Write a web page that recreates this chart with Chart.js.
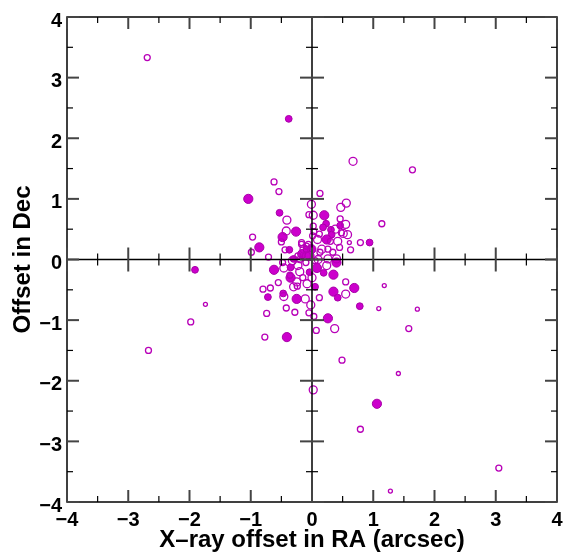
<!DOCTYPE html>
<html><head><meta charset="utf-8">
<script src="https://cdn.jsdelivr.net/npm/chart.js@4"></script>
<style>html,body{margin:0;padding:0;background:#fff}#wrap{width:569px;height:555px}</style>
</head><body><div id="wrap"><canvas id="c" width="569" height="555"></canvas></div>
<script>
// ---- data ----
const xTickValues = [-4, -3, -2, -1, 0, 1, 2, 3, 4];
const yTickValues = [-4, -3, -2, -1, 0, 1, 2, 3, 4];
const xTitle = "X\u2013ray offset in RA (arcsec)";
const yTitle = "Offset in Dec";

// filled markers (size class 1..4)
const filledX = [-0.38,-1.04,-0.53,0.20,0.23,0.46,0.31,-0.26,-0.48,0.32,0.24,0.94,-0.86,-0.01,-0.37,-0.16,0.40,-0.30,-1.91,-0.62,-0.35,0.08,0.19,-0.04,0.35,-0.35,0.05,0.69,0.35,0.42,-0.72,-0.25,0.78,0.26,-0.41,1.06,0.18,-0.04,-0.47,-0.09];
const filledY = [2.32,1.00,0.77,0.73,0.59,0.56,0.49,0.46,0.37,0.41,0.33,0.28,0.20,0.17,0.16,0.09,-0.05,0.01,-0.17,-0.17,-0.13,-0.14,-0.22,-0.21,-0.25,-0.30,-0.45,-0.47,-0.53,-0.63,-0.62,-0.65,-0.77,-0.97,-1.28,-2.38,0.53,0.06,-0.56,0.17];
const filledSize = [3,4,3,4,3,3,3,4,4,3,4,3,4,4,3,4,4,3,3,4,3,4,3,3,4,4,3,4,4,3,3,4,3,4,4,4,3,4,3,3];

// open markers
const openX = [-2.69,0.67,1.64,-0.62,-0.54,0.13,-0.01,0.56,0.47,-0.05,0.02,-0.41,0.46,1.14,0.55,0.02,0.38,-0.42,-0.50,-0.97,0.51,0.58,0.09,0.01,0.12,0.03,0.79,0.61,-0.06,-0.17,-0.13,0.16,0.26,0.45,0.63,-0.44,-0.99,-0.71,0.40,0.26,-0.48,-0.46,-0.23,0.24,-0.25,-0.24,-0.08,0.55,-0.55,-0.68,-0.80,0.55,-0.46,-0.11,0.12,-0.02,1.18,1.09,1.72,-1.74,-0.42,-0.28,-0.74,-0.05,0.03,-1.98,0.37,0.07,-0.77,1.58,-2.67,0.49,1.41,0.02,0.79,3.05,1.28,-0.23,-0.09,0.05,0.13,0.34,-0.36,0.48,-0.17,-0.09,-0.20,-0.30,-0.15,0.00,0.10,-0.10,0.30,0.42,-0.32,-0.20];
const openY = [3.33,1.62,1.48,1.28,1.12,1.09,0.91,0.93,0.86,0.74,0.73,0.65,0.67,0.59,0.58,0.55,0.50,0.47,0.29,0.37,0.43,0.41,0.33,0.39,0.42,0.46,0.28,0.28,0.25,0.25,0.17,0.17,0.17,0.20,0.16,0.16,0.12,0.04,0.01,0.01,-0.05,-0.14,-0.10,-0.10,-0.37,-0.44,-0.40,-0.37,-0.38,-0.47,-0.49,-0.57,-0.61,-0.65,-0.63,-0.75,-0.43,-0.81,-0.82,-0.74,-0.80,-0.87,-0.89,-0.88,-0.94,-1.03,-1.14,-1.17,-1.28,-1.14,-1.50,-1.66,-1.88,-2.15,-2.80,-3.44,-3.82,0.06,0.06,-0.02,0.12,0.12,-0.26,0.44,0.28,0.22,-0.20,-0.45,-0.30,-0.30,0.00,-0.05,0.30,0.30,-0.02,0.00];
const openSize = [2,3,2,2,2,2,3,3,3,2,3,3,2,2,3,2,3,3,2,2,3,3,3,2,2,2,2,1,2,2,3,3,2,2,2,2,2,2,3,3,2,3,3,3,3,2,3,2,2,2,2,3,3,3,2,3,1,1,1,1,2,2,2,2,2,2,3,2,2,2,2,2,1,3,2,2,1,2,3,2,2,2,2,2,2,2,3,3,2,3,3,2,2,3,3,2];

// ---- styling ----
const radiusFilled = {1:2, 2:2.8, 3:3.4, 4:4.6};
const radiusOpen = {1:2, 2:3, 3:4, 4:4.6};
const FONT = "'Liberation Sans', Arial, Helvetica, sans-serif";
const fmt = v => String(v).replace('-', '\u2212');

function pts(xs, ys){ return xs.map((x,i)=>({x:x, y:ys[i]})); }

const framePlugin = {
  id: 'frame',
  afterDatasetsDraw(chart){
    const {ctx, chartArea:a, scales:{x, y}} = chart;
    ctx.save();
    const x0 = x.getPixelForValue(0), y0 = y.getPixelForValue(0);
    ctx.strokeStyle = '#000'; ctx.lineWidth = 1.5;
    ctx.strokeRect(a.left, a.top, a.right - a.left, a.bottom - a.top);
    ctx.beginPath();
    ctx.moveTo(x0, a.top); ctx.lineTo(x0, a.bottom);
    ctx.moveTo(a.left, y0); ctx.lineTo(a.right, y0);
    ctx.stroke();
    const majL = 12, minL = 6;
    function tick(px, py, dx, dy, major){
      ctx.beginPath();
      ctx.lineWidth = major ? 2 : 1.2;
      ctx.strokeStyle = major ? '#444' : '#000';
      ctx.moveTo(px, py); ctx.lineTo(px + dx, py + dy); ctx.stroke();
    }
    function each(vals, cb){
      for (let i = 0; i < vals.length; i++){
        cb(vals[i], true);
        if (i < vals.length - 1) cb((vals[i] + vals[i+1]) / 2, false);
      }
    }
    each(xTickValues, (v, major) => {
      const px = x.getPixelForValue(v), L = major ? majL : minL;
      tick(px, a.bottom, 0, -L, major);
      tick(px, a.top, 0, L, major);
      tick(px, y0 - L, 0, 2 * L, major);
    });
    each(yTickValues, (v, major) => {
      const py = y.getPixelForValue(v), L = major ? majL : minL;
      tick(a.left, py, L, 0, major);
      tick(a.right, py, -L, 0, major);
      tick(x0 - L, py, 2 * L, 0, major);
    });
    ctx.restore();
  }
};

new Chart(document.getElementById('c'), {
  type: 'scatter',
  data: {
    datasets: [
      {
        label: 'open',
        data: pts(openX, openY),
        pointRadius: openSize.map(s => radiusOpen[s]),
        pointBackgroundColor: 'rgba(0,0,0,0)',
        pointBorderColor: '#b800b8',
        pointBorderWidth: 1.3
      },
      {
        label: 'filled',
        data: pts(filledX, filledY),
        pointRadius: filledSize.map(s => radiusFilled[s]),
        pointBackgroundColor: '#cc00cc',
        pointBorderColor: '#a800a8',
        pointBorderWidth: 1
      }
    ]
  },
  options: {
    responsive: false,
    animation: false,
    events: [],
    layout: { padding: { top: 13, right: 12, left: 0, bottom: 0 } },
    plugins: { legend: { display: false }, tooltip: { enabled: false } },
    scales: {
      x: {
        type: 'linear', min: -4, max: 4,
        afterBuildTicks: s => { s.ticks = xTickValues.map(v => ({value: v})); },
        afterFit: s => { s.height = 53; },
        grid: { display: false, drawTicks: false },
        border: { display: false },
        ticks: { color: '#000', padding: 6, maxRotation: 0, autoSkip: false,
                 font: { family: FONT, size: 20, weight: 'bold' }, callback: fmt },
        title: { display: true, text: xTitle, color: '#000', padding: { top: 0, bottom: 0 },
                 font: { family: FONT, size: 24, weight: 'bold' } }
      },
      y: {
        type: 'linear', min: -4, max: 4,
        afterBuildTicks: s => { s.ticks = yTickValues.map(v => ({value: v})); },
        afterFit: s => { s.width = 67; },
        grid: { display: false, drawTicks: false },
        border: { display: false },
        ticks: { color: '#000', padding: 5, autoSkip: false, labelOffset: 4,
                 font: { family: FONT, size: 20, weight: 'bold' }, callback: fmt },
        title: { display: true, text: yTitle, color: '#000', padding: { top: 9, bottom: 0 },
                 font: { family: FONT, size: 24, weight: 'bold' } }
      }
    }
  },
  plugins: [framePlugin]
});
</script>
</body></html>
